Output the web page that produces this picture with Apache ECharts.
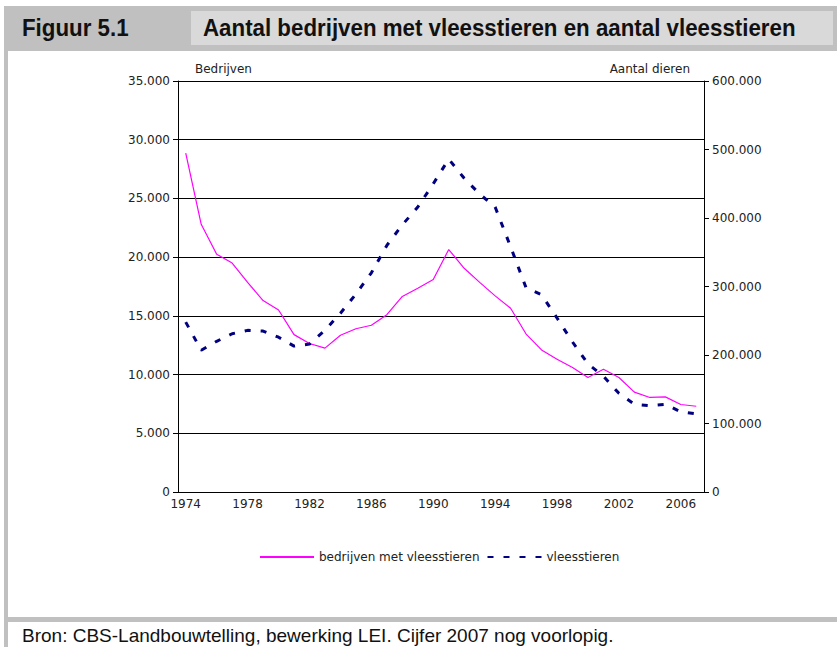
<!DOCTYPE html>
<html>
<head>
<meta charset="utf-8">
<script src="https://cdn.jsdelivr.net/npm/echarts@6/dist/echarts.min.js"></script>
<style>
  html, body { margin: 0; padding: 0; background: #fff; }
  #chart { width: 837px; height: 647px; }
</style>
</head>
<body>
<div id="chart"></div>
<script>
// jaren (categorieen)
var jaren = ["1974", "1975", "1976", "1977", "1978", "1979", "1980", "1981", "1982", "1983",
  "1984", "1985", "1986", "1987", "1988", "1989", "1990", "1991", "1992", "1993",
  "1994", "1995", "1996", "1997", "1998", "1999", "2000", "2001", "2002", "2003",
  "2004", "2005", "2006", "2007"];

// aantal bedrijven met vleesstieren (linker as)
var bedrijven = [28850, 22800, 20250, 19500, 17850, 16300, 15500, 13400, 12650, 12250,
  13350, 13900, 14200, 15100, 16650, 17350, 18100, 20650, 19050, 17850,
  16700, 15650, 13450, 12100, 11300, 10600, 9750, 10450, 9750, 8500,
  8050, 8100, 7450, 7300];

// aantal vleesstieren (rechter as)
var vleesstieren = [248000, 207000, 220000, 231000, 236000, 235000, 226000, 213000, 216000, 236000,
  261000, 289000, 320000, 360000, 390000, 416000, 450000, 486000, 458000, 435000,
  416000, 358000, 298000, 288000, 254000, 219000, 187000, 169000, 144000, 128000,
  126000, 128000, 117000, 114000];

var titelLinks = "Figuur 5.1";
var titelRechts = "Aantal bedrijven met vleesstieren en aantal vleesstieren";
var bron = "Bron: CBS-Landbouwtelling, bewerking LEI. Cijfer 2007 nog voorlopig.";

function punten(v) {
  return String(v).replace(/\B(?=(\d{3})+(?!\d))/g, ".");
}

var font = "DejaVu Sans";
var kopFont = "'Liberation Sans', Arial, sans-serif";
var grijs = "#c0c0c0";

var chart = echarts.init(document.getElementById("chart"), null, { renderer: "svg" });

var option = {
  animation: false,
  textStyle: { fontFamily: font, color: "#222" },
  graphic: [
    { type: "rect", shape: { x: 4, y: 6, width: 833, height: 45 }, style: { fill: grijs }, silent: true },
    { type: "rect", shape: { x: 191, y: 11, width: 642, height: 34 }, style: { fill: "#d9d9d9" }, silent: true },
    { type: "rect", shape: { x: 4, y: 50, width: 4, height: 597 }, style: { fill: grijs }, silent: true },
    { type: "rect", shape: { x: 4, y: 617, width: 833, height: 5 }, style: { fill: grijs }, silent: true },
    {
      type: "text", x: 22, y: 16, scaleX: 0.93,
      style: { text: titelLinks, font: "bold 24px " + kopFont, fill: "#111" }
    },
    {
      type: "text", x: 203, y: 16, scaleX: 0.93,
      style: { text: titelRechts, font: "bold 24px " + kopFont, fill: "#111" }
    },
    {
      type: "text", x: 22, y: 626,
      style: { text: bron, font: "19px " + kopFont, fill: "#111" }
    }
  ],
  legend: {
    left: 259,
    top: 551,
    padding: 0,
    itemWidth: 54,
    itemHeight: 14,
    itemGap: 7,
    itemStyle: { opacity: 0 },
    textStyle: { fontFamily: font, fontSize: 12, color: "#222" },
    data: ["bedrijven met vleesstieren", "vleesstieren"]
  },
  grid: { left: 178, right: 133, top: 81, bottom: 155 },
  xAxis: {
    type: "category",
    data: jaren,
    boundaryGap: true,
    axisLine: { lineStyle: { color: "#000", width: 1 } },
    axisTick: { interval: 0, length: 5, lineStyle: { color: "#000" } },
    axisLabel: { interval: 3, margin: 6, fontSize: 12, color: "#222", fontFamily: font }
  },
  yAxis: [
    {
      type: "value",
      min: 0,
      max: 35000,
      interval: 5000,
      name: "Bedrijven",
      nameLocation: "end",
      nameGap: 6,
      nameTextStyle: { align: "left", padding: [0, 0, 0, 17], fontSize: 12, color: "#222" },
      axisLine: { show: true, lineStyle: { color: "#000" } },
      axisTick: { show: true, length: 5, lineStyle: { color: "#000" } },
      axisLabel: { margin: 8, fontSize: 12, color: "#222", formatter: punten },
      splitLine: { show: true, lineStyle: { color: "#000", width: 1 } }
    },
    {
      type: "value",
      min: 0,
      max: 600000,
      interval: 100000,
      position: "right",
      name: "Aantal dieren",
      nameLocation: "end",
      nameGap: 6,
      nameTextStyle: { align: "right", padding: [0, 14, 0, 0], fontSize: 12, color: "#222" },
      axisLine: { show: true, lineStyle: { color: "#000" } },
      axisTick: { show: true, length: 5, lineStyle: { color: "#000" } },
      axisLabel: { margin: 8, fontSize: 12, color: "#222", formatter: punten },
      splitLine: { show: false }
    }
  ],
  series: [
    {
      name: "bedrijven met vleesstieren",
      type: "line",
      yAxisIndex: 0,
      data: bedrijven,
      symbol: "none",
      color: "#ff00ff",
      lineStyle: { color: "#ff00ff", width: 1.2 }
    },
    {
      name: "vleesstieren",
      type: "line",
      yAxisIndex: 1,
      data: vleesstieren,
      symbol: "none",
      color: "#000080",
      lineStyle: { color: "#000080", width: 3, type: [6, 10] }
    }
  ]
};

chart.setOption(option);
</script>
</body>
</html>
